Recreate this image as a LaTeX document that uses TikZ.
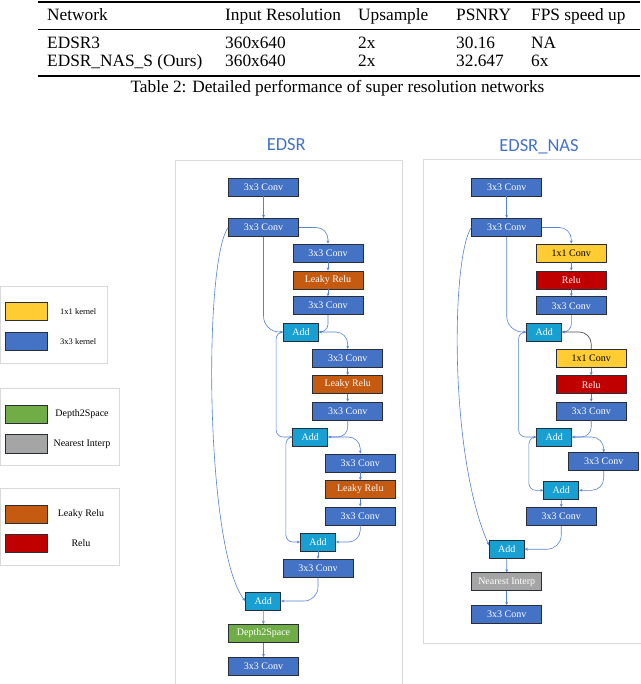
\documentclass[tikz,border=0pt]{standalone}
\usepackage{fontspec}
\setmainfont{Liberation Serif}
\newfontfamily\calib{Carlito}
\usetikzlibrary{arrows.meta,calc}
\definecolor{convblue}{RGB}{68,114,196}
\definecolor{addcyan}{RGB}{24,160,210}
\definecolor{leaky}{RGB}{197,90,17}
\definecolor{yel}{RGB}{255,204,51}
\definecolor{relured}{RGB}{192,0,0}
\definecolor{grn}{RGB}{112,173,71}
\definecolor{gry}{RGB}{165,165,165}
\definecolor{boxline}{RGB}{40,45,55}
\definecolor{linkc}{RGB}{85,130,210}
\definecolor{framec}{RGB}{217,217,217}
\definecolor{titlec}{RGB}{68,114,196}
\definecolor{darkl}{RGB}{80,80,80}
\begin{document}
\begin{tikzpicture}[x=1pt,y=-1pt,
  blk/.style={draw=boxline, line width=0.8pt, minimum width=70pt, minimum height=18pt, inner sep=0pt, text=white, font=\fontsize{10}{12}\selectfont},
  conv/.style={blk, fill=convblue},
  addb/.style={blk, fill=addcyan, minimum width=35pt},
  lrelu/.style={blk, fill=leaky},
  onebyone/.style={blk, fill=yel, text=black},
  relub/.style={blk, fill=relured},
  dtos/.style={blk, fill=grn},
  interp/.style={blk, fill=gry},
  conn/.style={draw=linkc, line width=0.6pt, -{Stealth[length=3.2pt,width=2.8pt]}},
  frame/.style={draw=framec, line width=0.8pt},
  legbox/.style={draw=boxline, line width=0.7pt, minimum width=42.7pt, minimum height=18.3pt, inner sep=0pt},
  legtxt/.style={font=\fontsize{10}{12}\selectfont, text=black, inner sep=0pt},
  smalltxt/.style={font=\fontsize{8.5}{10}\selectfont, text=black, inner sep=0pt},
  tbl/.style={anchor=base west, font=\fontsize{17.3}{20}\selectfont, inner sep=0pt},
  ttl/.style={font=\calib\fontsize{18.5}{20}\selectfont, text=titlec, inner sep=0pt}
]
\useasboundingbox (0,0) rectangle (640,684);

% ---------- table ----------
\draw[line width=1.5pt] (38,2) -- (640,2);
\draw[line width=0.7pt] (38,29) -- (640,29);
\draw[line width=1.5pt] (38,76) -- (640,76);
\node[tbl] (h1) at (47,20.5) {Network};
\node[tbl] (h2) at (225,20.5) {Input Resolution};
\node[tbl] (h3) at (358,20.5) {Upsample};
\node[tbl] (h4) at (456,20.5) {PSNRY};
\node[tbl] (h5) at (531,20.5) {FPS speed up};
\node[tbl] (r11) at (47,48.8) {EDSR3};
\node[tbl] (r12) at (225,48.8) {360x640};
\node[tbl] (r13) at (358,48.8) {2x};
\node[tbl] (r14) at (456,48.8) {30.16};
\node[tbl] (r15) at (531,48.8) {NA};
\node[tbl] (r21) at (47,67) {EDSR\_NAS\_S (Ours)};
\node[tbl] (r22) at (225,67) {360x640};
\node[tbl] (r23) at (358,67) {2x};
\node[tbl] (r24) at (456,67) {32.647};
\node[tbl] (r25) at (531,67) {6x};
\node[tbl, anchor=base] (cap) at (337.5,92.5) {Table 2: Detailed performance of super resolution networks};

% ---------- legends ----------
\draw[frame] (0.5,286) rectangle (107,363.3);
\draw[frame] (0.5,388.3) rectangle (119.3,465);
\draw[frame] (0.5,488.3) rectangle (119.3,565);
\node[legbox, fill=yel] (lg1) at (26.3,311.5) {};
\node[smalltxt] (lt1) at (78.3,311.5) {1x1 kernel};
\node[legbox, fill=convblue] (lg2) at (26.3,341.5) {};
\node[smalltxt] (lt2) at (78.3,341.5) {3x3 kernel};
\node[legbox, fill=grn] (lg3) at (26.3,414) {};
\node[legtxt] (lt3) at (82,414) {Depth2Space};
\node[legbox, fill=gry] (lg4) at (26.3,443.8) {};
\node[legtxt] (lt4) at (82,443.8) {Nearest Interp};
\node[legbox, fill=leaky] (lg5) at (26.3,514) {};
\node[legtxt] (lt5) at (81,514) {Leaky Relu};
\node[legbox, fill=relured] (lg6) at (26.3,543) {};
\node[legtxt] (lt6) at (81,543) {Relu};

% ---------- EDSR ----------
\node[ttl] (t1) at (286.3,145) {EDSR};
\draw[frame] (175.5,160) rectangle (402,700);
\node[conv] (e1) at (263.5,187) {3x3 Conv};
\node[conv] (e2) at (263.5,227.5) {3x3 Conv};
\node[conv] (e3) at (328,253) {3x3 Conv};
\node[lrelu] (l1) at (328,280) {Leaky Relu};
\node[conv] (e4) at (328,305.7) {3x3 Conv};
\node[addb] (a1) at (301,332) {Add};
\node[conv] (e5) at (347.7,358.3) {3x3 Conv};
\node[lrelu] (l2) at (347.7,384.5) {Leaky Relu};
\node[conv] (e6) at (347.7,411) {3x3 Conv};
\node[addb] (a2) at (310.3,437) {Add};
\node[conv] (e7) at (360.3,463) {3x3 Conv};
\node[lrelu] (l3) at (360.3,489.5) {Leaky Relu};
\node[conv] (e8) at (360.3,516) {3x3 Conv};
\node[addb] (a3) at (318,542) {Add};
\node[conv] (e9) at (318,568.3) {3x3 Conv};
\node[addb] (a4) at (263.2,601) {Add};
\node[dtos] (d2) at (263.5,633.5) {Depth2Space};
\node[conv] (e10) at (263.5,666.5) {3x3 Conv};

\draw[conn] (e1) -- (e2);
\draw[conn, rounded corners=12pt] (e2.east) -| (e3.north);
\draw[conn] (e3) -- (l1);
\draw[conn] (l1) -- (e4);
\draw[conn, rounded corners=16pt] (e2.south) |- (a1.west);
\draw[conn, rounded corners=8pt] (e4.south) |- (a1.east);
\draw[conn, rounded corners=12pt] (a1.east) -| (e5.north);
\draw[conn] (e5) -- (l2);
\draw[conn] (l2) -- (e6);
\draw[conn, rounded corners=7pt] (a1.west) -- ++(-7,0) |- (a2.west);
\draw[conn, rounded corners=10pt] (e6.south) |- (a2.east);
\draw[conn, rounded corners=12pt] (a2.east) -| (e7.north);
\draw[conn] (e7) -- (l3);
\draw[conn] (l3) -- (e8);
\draw[conn, rounded corners=7pt] (a2.west) -- ++(-6.5,0) |- (a3.west);
\draw[conn, rounded corners=12pt] (e8.south) |- (a3.east);
\draw[conn] (a3) -- (e9);
\draw[conn, rounded corners=14pt] (e9.south) |- (a4.east);
\draw[conn] (e2.west) .. controls +(-25,35) and +(-40,-50) .. (a4.west);
\draw[conn] (a4) -- (d2);
\draw[conn] (d2) -- (e10);

% ---------- EDSR_NAS ----------
\node[ttl] (t2) at (539,146.7) {EDSR\_NAS};
\draw[frame] (423,159) rectangle (660,643);
\node[conv] (n1) at (506.7,187) {3x3 Conv};
\node[conv] (n2) at (506.7,227.5) {3x3 Conv};
\node[onebyone] (y1) at (571.3,253) {1x1 Conv};
\node[relub] (q1) at (571.3,280) {Relu};
\node[conv] (n3) at (571.3,305.8) {3x3 Conv};
\node[addb] (b1) at (544.2,332) {Add};
\node[onebyone] (y2) at (591.2,358.3) {1x1 Conv};
\node[relub] (q2) at (591.2,384.7) {Relu};
\node[conv] (n4) at (591.2,411) {3x3 Conv};
\node[addb] (b2) at (554.2,437) {Add};
\node[conv] (n5) at (603.7,461.7) {3x3 Conv};
\node[addb] (b3) at (561.3,490.3) {Add};
\node[conv] (n6) at (561.2,516.5) {3x3 Conv};
\node[addb] (b4) at (506.8,549.2) {Add};
\node[interp] (ni) at (506.7,581.8) {Nearest Interp};
\node[conv] (n7) at (506.7,614.5) {3x3 Conv};

\draw[conn] (n1) -- (n2);
\draw[conn, rounded corners=12pt] (n2.east) -| (y1.north);
\draw[conn] (y1) -- (q1);
\draw[conn] (q1) -- (n3);
\draw[conn, rounded corners=16pt] (n2.south) |- (b1.west);
\draw[conn, rounded corners=8pt] (n3.south) |- (b1.east);
\draw[draw=darkl, line width=0.7pt, rounded corners=12pt] (b1.east) -| (y2.north);
\draw[conn] (y2) -- (q2);
\draw[conn] (q2) -- (n4);
\draw[conn, rounded corners=7pt] (b1.west) -- ++(-7.7,0) |- (b2.west);
\draw[conn, rounded corners=10pt] (n4.south) |- (b2.east);
\draw[conn, rounded corners=12pt] (b2.east) -| (n5.north);
\draw[conn, rounded corners=7pt] (b2.west) -- ++(-7.4,0) |- (b3.west);
\draw[conn, rounded corners=12pt] (n5.south) |- (b3.east);
\draw[conn] (b3) -- (n6);
\draw[conn, rounded corners=14pt] (n6.south) |- (b4.east);
\draw[conn] (n2.west) .. controls +(-20,30) and +(-40,-90) .. ($(b4.west)+(0,-4)$);
\draw[conn] (b4) -- (ni);
\draw[conn] (ni) -- (n7);
\end{tikzpicture}
\end{document}
